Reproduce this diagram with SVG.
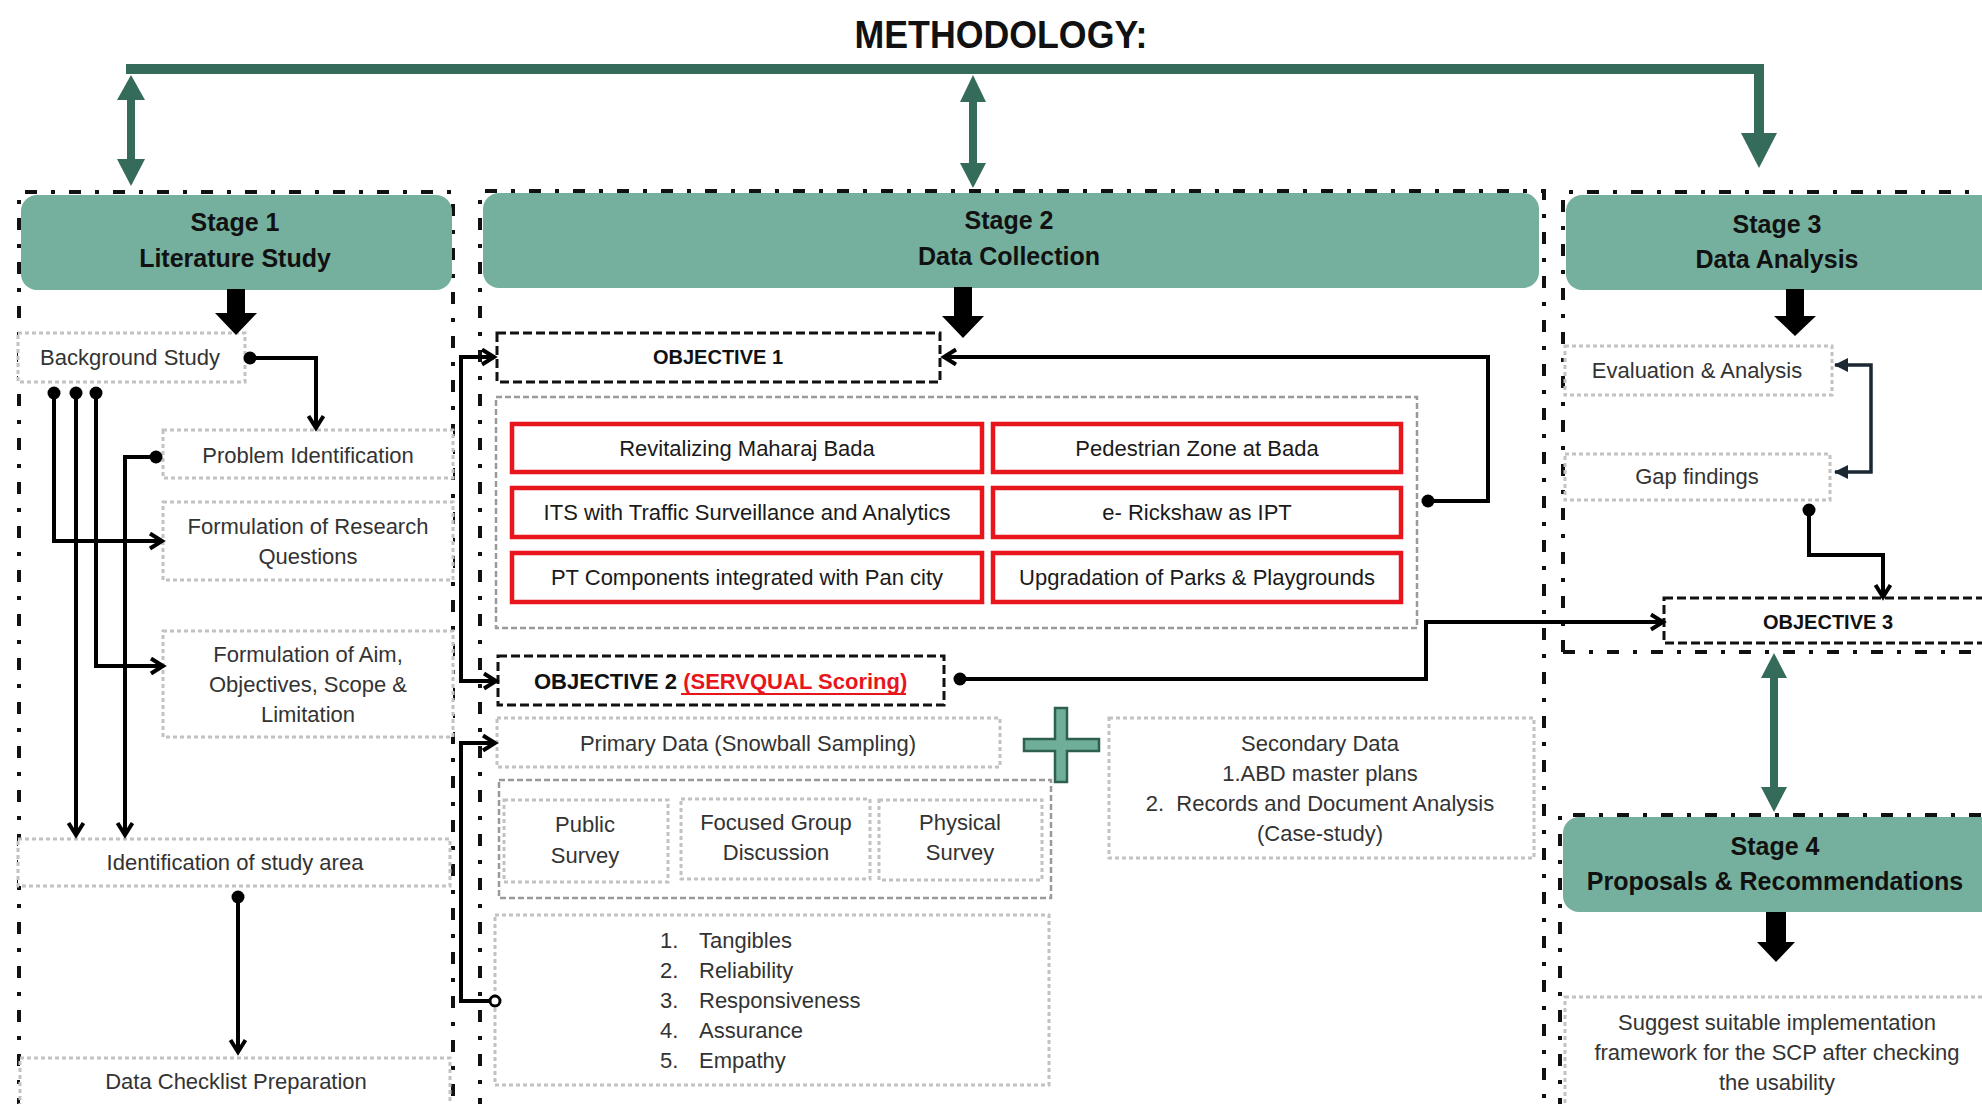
<svg xmlns="http://www.w3.org/2000/svg" width="1982" height="1104" viewBox="0 0 1982 1104">
<style>
.col{fill:none;stroke:#111;stroke-width:4;stroke-dasharray:12 14 4 14}
.hdr{fill:#74b09d}
.ht{font-family:"Liberation Sans",Arial,sans-serif;font-weight:bold;font-size:25px;fill:#111;text-anchor:middle}
.dotb{fill:#fff;stroke:#c2c2c2;stroke-width:3;stroke-dasharray:4 3}
.t{font-family:"Liberation Sans",Arial,sans-serif;font-size:22px;fill:#333;text-anchor:middle}
.tl{font-family:"Liberation Sans",Arial,sans-serif;font-size:22px;fill:#333}
.rt{font-family:"Liberation Sans",Arial,sans-serif;font-size:22px;fill:#1a1a1a;text-anchor:middle}
.red{fill:#fff;stroke:#e8161c;stroke-width:4.5}
.obj{fill:#fff;stroke:#111;stroke-width:3;stroke-dasharray:9 4}
.ot{font-family:"Liberation Sans",Arial,sans-serif;font-weight:bold;font-size:20px;fill:#111;text-anchor:middle}
.gd{fill:none;stroke:#9a9a9a;stroke-width:2.5;stroke-dasharray:6 3}
.ln{fill:none;stroke:#000;stroke-width:4}
.gr{fill:#356b5a}
.blk{fill:#000}
</style>
<defs>
<marker id="chev" markerWidth="24" markerHeight="24" refX="15" refY="9" orient="auto-start-reverse" markerUnits="userSpaceOnUse">
<path d="M3,1.5 L15,9 L3,16.5" fill="none" stroke="#000" stroke-width="4"/>
</marker>
<marker id="dotm" markerWidth="16" markerHeight="16" refX="8" refY="8" markerUnits="userSpaceOnUse">
<circle cx="8" cy="8" r="6.5" fill="#000"/>
</marker>
<marker id="tri" markerWidth="16" markerHeight="16" refX="13" refY="7" orient="auto-start-reverse" markerUnits="userSpaceOnUse">
<path d="M0,0 L14,7 L0,14 z" fill="#1b2732"/>
</marker>
</defs>
<rect width="1982" height="1104" fill="#fff"/>

<text x="1001" y="48" font-family="'Liberation Sans',Arial,sans-serif" font-weight="bold" font-size="39" fill="#111" text-anchor="middle" textLength="293" lengthAdjust="spacingAndGlyphs">METHODOLOGY:</text>

<g id="stage-columns">
<path class="col" d="M19,1110 V192 H453 V1110"/>
<path class="col" d="M480,1110 V191 H1544 V1110"/>
<path class="col" d="M1563,652 V192 H1990 M1563,652 H1990"/>
<path class="col" d="M1560,1110 V815 H1990"/>
</g>

<g id="stage1-header">
<rect class="hdr" x="21" y="195" width="431" height="95" rx="16"/>
<text class="ht" x="235" y="231">Stage 1</text>
<text class="ht" x="235" y="267">Literature Study</text>
</g>
<g id="stage2-header">
<rect class="hdr" x="483" y="193" width="1056" height="95" rx="16"/>
<text class="ht" x="1009" y="229">Stage 2</text>
<text class="ht" x="1009" y="265">Data Collection</text>
</g>
<g id="stage3-header">
<rect class="hdr" x="1566" y="195" width="440" height="95" rx="16"/>
<text class="ht" x="1777" y="233">Stage 3</text>
<text class="ht" x="1777" y="268">Data Analysis</text>
</g>
<g id="stage4-header">
<rect class="hdr" x="1563" y="817" width="440" height="95" rx="16"/>
<text class="ht" x="1775" y="855">Stage 4</text>
<text class="ht" x="1775" y="890">Proposals &amp; Recommendations</text>
</g>

<g id="background-study">
<rect class="dotb" x="18" y="333" width="227" height="49"/>
<text class="t" x="130" y="365">Background Study</text>
</g>
<g id="problem-identification">
<rect class="dotb" x="163" y="430" width="290" height="48"/>
<text class="t" x="308" y="463" font-size="23">Problem Identification</text>
</g>
<g id="research-questions">
<rect class="dotb" x="163" y="502" width="290" height="78"/>
<text class="t" x="308" y="534" font-size="23">Formulation of Research</text>
<text class="t" x="308" y="564" font-size="23">Questions</text>
</g>
<g id="aim-objectives">
<rect class="dotb" x="163" y="631" width="290" height="106"/>
<text class="t" x="308" y="662">Formulation of Aim,</text>
<text class="t" x="308" y="692">Objectives, Scope &amp;</text>
<text class="t" x="308" y="722">Limitation</text>
</g>
<g id="study-area">
<rect class="dotb" x="18" y="839" width="432" height="47"/>
<text class="t" x="235" y="870" font-size="23">Identification of study area</text>
</g>
<g id="data-checklist">
<rect class="dotb" x="20" y="1058" width="430" height="60"/>
<text class="t" x="236" y="1089">Data Checklist Preparation</text>
</g>

<g id="objective1">
<rect class="obj" x="497" y="333" width="443" height="49"/>
<text class="ot" x="718" y="364">OBJECTIVE 1</text>
</g>
<g id="objective1-items">
<rect class="gd" x="496" y="397" width="921" height="231"/>
<rect class="red" x="512" y="424" width="470" height="48"/>
<text class="rt" x="747" y="456">Revitalizing Maharaj Bada</text>
<rect class="red" x="993" y="424" width="408" height="48"/>
<text class="rt" x="1197" y="456">Pedestrian Zone at Bada</text>
<rect class="red" x="512" y="488" width="470" height="49"/>
<text class="rt" x="747" y="520">ITS with Traffic Surveillance and Analytics</text>
<rect class="red" x="993" y="488" width="408" height="49"/>
<text class="rt" x="1197" y="520">e- Rickshaw as IPT</text>
<rect class="red" x="512" y="553" width="470" height="49"/>
<text class="rt" x="747" y="585">PT Components integrated with Pan city</text>
<rect class="red" x="993" y="553" width="408" height="49"/>
<text class="rt" x="1197" y="585">Upgradation of Parks &amp; Playgrounds</text>
</g>

<g id="objective2">
<rect class="obj" x="498" y="656" width="446" height="49" stroke-width="4" stroke-dasharray="11 5"/>
<text x="534" y="689" font-family="'Liberation Sans',Arial,sans-serif" font-weight="bold" font-size="22" fill="#111">OBJECTIVE 2 <tspan fill="#e8161c">(SERVQUAL Scoring)</tspan></text>
<line x1="681" y1="694" x2="906" y2="694" stroke="#e8161c" stroke-width="2"/>
</g>

<g id="primary-data">
<rect class="dotb" x="497" y="718" width="503" height="49"/>
<text class="t" x="748" y="751">Primary Data (Snowball Sampling)</text>
</g>
<g id="plus">
<polygon points="1055,708 1067,708 1067,739 1099,739 1099,751 1067,751 1067,782 1055,782 1055,751 1024,751 1024,739 1055,739" fill="#6fae99" stroke="#2f5f50" stroke-width="2.5"/>
</g>
<g id="survey-methods">
<rect class="gd" x="499" y="780" width="552" height="118"/>
<rect class="dotb" x="504" y="800" width="164" height="82"/>
<text class="t" x="585" y="832">Public</text>
<text class="t" x="585" y="863">Survey</text>
<rect class="dotb" x="681" y="799" width="189" height="80"/>
<text class="t" x="776" y="830">Focused Group</text>
<text class="t" x="776" y="860">Discussion</text>
<rect class="dotb" x="879" y="800" width="163" height="80"/>
<text class="t" x="960" y="830">Physical</text>
<text class="t" x="960" y="860">Survey</text>
</g>
<g id="servqual-dimensions">
<rect class="dotb" x="495" y="915" width="554" height="170"/>
<text class="tl" x="660" y="948">1.</text><text class="tl" x="699" y="948">Tangibles</text>
<text class="tl" x="660" y="978">2.</text><text class="tl" x="699" y="978">Reliability</text>
<text class="tl" x="660" y="1008">3.</text><text class="tl" x="699" y="1008">Responsiveness</text>
<text class="tl" x="660" y="1038">4.</text><text class="tl" x="699" y="1038">Assurance</text>
<text class="tl" x="660" y="1068">5.</text><text class="tl" x="699" y="1068">Empathy</text>
</g>
<g id="secondary-data">
<rect class="dotb" x="1109" y="718" width="425" height="140"/>
<text class="t" x="1320" y="751">Secondary Data</text>
<text class="t" x="1320" y="781">1.ABD master plans</text>
<text class="t" x="1320" y="811">2.&#160; Records and Document Analysis</text>
<text class="t" x="1320" y="841">(Case-study)</text>
</g>

<g id="evaluation">
<rect class="dotb" x="1565" y="346" width="267" height="49"/>
<text class="t" x="1697" y="378">Evaluation &amp; Analysis</text>
</g>
<g id="gap-findings">
<rect class="dotb" x="1565" y="454" width="265" height="46"/>
<text class="t" x="1697" y="484">Gap findings</text>
</g>
<g id="objective3">
<rect class="obj" x="1664" y="598" width="340" height="45"/>
<text class="ot" x="1828" y="629">OBJECTIVE 3</text>
</g>
<g id="suggest">
<rect class="dotb" x="1565" y="997" width="430" height="120"/>
<text class="t" x="1777" y="1030" font-size="23">Suggest suitable implementation</text>
<text class="t" x="1777" y="1060" font-size="23">framework for the SCP after checking</text>
<text class="t" x="1777" y="1090" font-size="23">the usability</text>
</g>

<g id="connectors">
<!-- green top feedback -->
<path d="M126,69 H1759 V136" fill="none" stroke="#356b5a" stroke-width="10"/>
<polygon class="gr" points="1741,133 1777,133 1759,168"/>
<rect class="gr" x="127" y="96" width="8" height="66"/>
<polygon class="gr" points="117,100 145,100 131,75"/>
<polygon class="gr" points="117,159 145,159 131,186"/>
<rect class="gr" x="969" y="98" width="8" height="68"/>
<polygon class="gr" points="960,102 986,102 973,75"/>
<polygon class="gr" points="960,163 986,163 973,188"/>
<rect class="gr" x="1770" y="674" width="8" height="117"/>
<polygon class="gr" points="1761,678 1787,678 1774,653"/>
<polygon class="gr" points="1761,787 1787,787 1774,812"/>
<!-- block arrows -->
<polygon class="blk" points="227,289 245,289 245,313 257,313 236,335 215,313 227,313"/>
<polygon class="blk" points="954,287 972,287 972,316 984,316 963,338 942,316 954,316"/>
<polygon class="blk" points="1786,289 1804,289 1804,316 1816,316 1795,336 1774,316 1786,316"/>
<polygon class="blk" points="1766,912 1786,912 1786,942 1795,942 1776,962 1757,942 1766,942"/>
<!-- stage 1 -->
<path class="ln" d="M250,358 H316 V428" marker-start="url(#dotm)" marker-end="url(#chev)"/>
<path class="ln" d="M54,393 V541 H162" marker-start="url(#dotm)" marker-end="url(#chev)"/>
<path class="ln" d="M76,393 V835" marker-start="url(#dotm)" marker-end="url(#chev)"/>
<path class="ln" d="M96,393 V666 H163" marker-start="url(#dotm)" marker-end="url(#chev)"/>
<path class="ln" d="M156,457 H125 V835" marker-start="url(#dotm)" marker-end="url(#chev)"/>
<path class="ln" d="M238,897 V1052" marker-start="url(#dotm)" marker-end="url(#chev)"/>
<!-- stage 2 -->
<path class="ln" d="M494,357 H461 V681 H496" marker-start="url(#chev)" marker-end="url(#chev)"/>
<path class="ln" d="M1428,501 H1488 V357 H944" marker-start="url(#dotm)" marker-end="url(#chev)"/>
<path class="ln" stroke-width="3.5" d="M960,679 H1426 V622 H1663" marker-start="url(#dotm)" marker-end="url(#chev)"/>
<path class="ln" d="M490,1001 H461 V743 H495" marker-end="url(#chev)"/>
<circle cx="495" cy="1001" r="5" fill="#fff" stroke="#000" stroke-width="3"/>
<!-- stage 3 -->
<path fill="none" stroke="#1b2732" stroke-width="3.5" d="M1835,365 H1871 V472 H1835" marker-start="url(#tri)" marker-end="url(#tri)"/>
<path class="ln" d="M1809,510 V555 H1883 V597" marker-start="url(#dotm)" marker-end="url(#chev)"/>
</g>
</svg>
